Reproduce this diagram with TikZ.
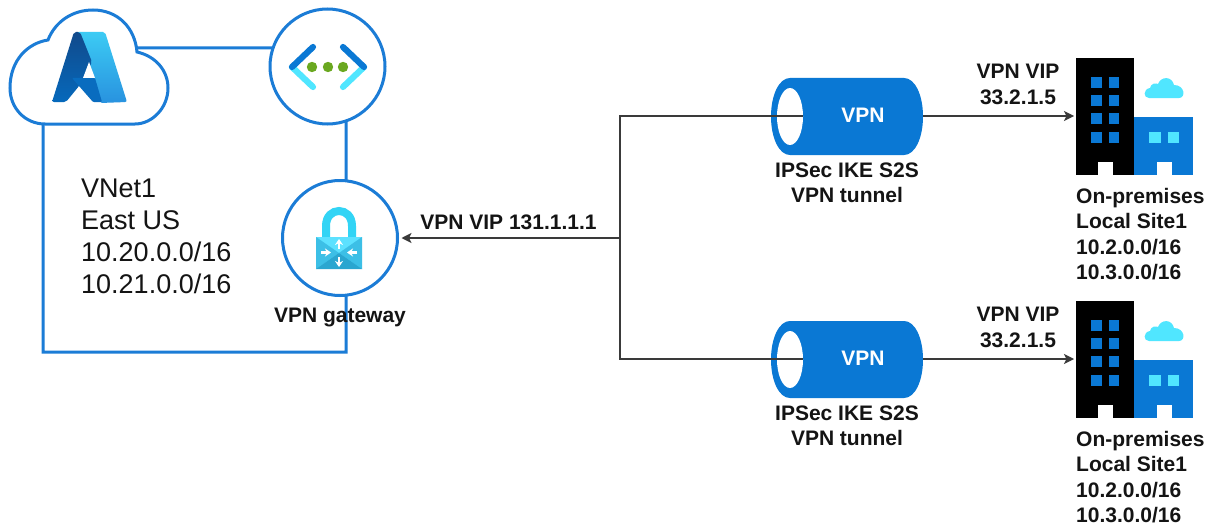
\documentclass[tikz,border=0pt]{standalone}
\usepackage{fontspec}
\setmainfont{Liberation Sans}
\usetikzlibrary{arrows.meta}
\definecolor{azline}{HTML}{1B7CD6}
\definecolor{azblue}{HTML}{0A78D4}
\definecolor{azlight}{HTML}{50E6FF}
\definecolor{conn}{HTML}{3A3A3A}
\definecolor{txt}{HTML}{141414}
\definecolor{azlone}{HTML}{3CCBF4}
\definecolor{azltwo}{HTML}{2892DF}
\definecolor{azdone}{HTML}{114A8B}
\definecolor{azdtwo}{HTML}{0669BC}
\definecolor{azgreen}{HTML}{6AA820}
\definecolor{azcy}{HTML}{32D4F5}
\definecolor{azbone}{HTML}{5CE1FF}
\definecolor{azbtwo}{HTML}{3CBFE6}
\definecolor{azbthree}{HTML}{2AA6D0}
\tikzset{
  frameline/.style={draw=azline,line width=3pt},
  ring/.style={circle,draw=azline,fill=white,line width=3pt,minimum size=115pt,inner sep=0pt,outer sep=0pt},
  wire/.style={draw=conn,line width=1.5pt},
  arrowwire/.style={wire,-{Stealth[length=10pt,width=10pt,inset=2.5pt]}},
  boldlabel/.style={font=\fontsize{21}{25.5}\selectfont\bfseries,text=txt,inner sep=0pt,align=center},
  ghost/.style={inner sep=0pt,outer sep=0pt},
  chev/.style={line width=6.2pt,line cap=round},
  gwarrow/.style={draw=white,line width=2.2pt,-{Stealth[length=6pt,width=8pt]}},
}
\newcommand{\sitegroup}[2]{%
  \begin{scope}[shift={(0,#2)}]
    \node[ghost,minimum width=152pt,minimum height=76pt] (tun#1) at (847,116.5) {};
    \coordinate (hole#1) at (803,116);
    \coordinate (tunout#1) at (923,116);
    \node[ghost,minimum width=117pt,minimum height=117pt] (bld#1) at (1134.5,116.5) {};
    % tunnel
    \fill[azblue] (790,78) -- (904,78) .. controls (915,78) and (923,95) .. (923,116.5)
      .. controls (923,138) and (915,155) .. (904,155) -- (790,155)
      .. controls (779,155) and (771,138) .. (771,116.5)
      .. controls (771,95) and (779,78) .. (790,78) -- cycle;
    \fill[white] (790,116.5) ellipse [x radius=13pt,y radius=28.5pt];
    \node[boldlabel,text=white] (vpn#1) at (863,115) {VPN};
    \node[boldlabel] (ipsec#1) at (847,183) {IPSec IKE S2S\\VPN tunnel};
    \node[boldlabel] (vip#1) at (1018,84.5) {VPN VIP\\33.2.1.5};
    \node[boldlabel,align=left,anchor=north west] (site#1) at (1076,188) {On-premises\\Local Site1\\10.2.0.0/16\\10.3.0.0/16};
    % buildings
    \fill[black] (1076,58) rectangle (1134,175);
    \fill[azblue] (1134,117) rectangle (1193,175);
    \foreach \wy in {77,95,113,132} {
      \fill[azblue] (1091,\wy) rectangle (1102,\wy+11);
      \fill[azblue] (1109,\wy) rectangle (1119,\wy+11);
    }
    \fill[white] (1098,162) rectangle (1113,175);
    \fill[white] (1157,162) rectangle (1172,175);
    \fill[azlight] (1149,132) rectangle (1161,143);
    \fill[azlight] (1168,132) rectangle (1179,143);
    \fill[azlight] (1149,98) .. controls (1143,98) and (1143,89) .. (1150,88)
      .. controls (1151,83) and (1156,83) .. (1158,84)
      .. controls (1161,76) and (1172,76) .. (1174,85)
      .. controls (1185,85) and (1186,98) .. (1179,98) -- cycle;
    % connectors
    \draw[arrowwire,shorten >=2pt] (tunout#1) -- (bld#1.west |- tunout#1);
  \end{scope}
}
\begin{document}
\begin{tikzpicture}[x=1pt,y=-1pt]
\useasboundingbox (0,0) rectangle (1208,527);
\fill[white] (0,0) rectangle (1208,527);
% frame
\coordinate (cloudR) at (137,48);
\coordinate (cloudB) at (43,124);
\coordinate (cornerL) at (43,352);
\coordinate (cornerR) at (346,352);
\node[ring] (vnet) at (327.5,66.5) {};
\node[ring] (gw) at (340,238) {};
\draw[frameline] (cloudR) -- (vnet.161.2);
\draw[frameline] (vnet.-71.2) -- (gw.84);
\draw[frameline,line join=miter] (gw.-84) -- (cornerR) -- (cornerL) -- (cloudB);
% cloud
\fill[white,draw=azline,line width=3pt] (45,124) .. controls (25,124) and (10,108) .. (10,88)
  .. controls (10,60) and (28,43) .. (48,40)
  .. controls (55,22) and (72,10) .. (93,10)
  .. controls (118,10) and (135,28) .. (137,52)
  .. controls (155,56) and (168,70) .. (168,88)
  .. controls (168,108) and (152,124) .. (135,124) -- cycle;
% Azure logo
\shade[top color=azlone,bottom color=azltwo,rounded corners=2pt] (77,32) -- (105,32) -- (127,102) -- (100,103) -- cycle;
\shade[top color=azdone,bottom color=azdtwo,rounded corners=2pt] (74,32) -- (80,32) -- (92,62) -- (79,86) -- (66,102) -- (52,102) -- cycle;
\fill[azblue!90!black,rounded corners=1pt] (72,78) -- (95,78) -- (102,102) -- (93,102) -- cycle;
\fill[white] (89,62) -- (83,78) -- (95,78) -- cycle;
% network icon
\draw[chev,draw=azlight] (292,67) -- (313,87);
\draw[chev,draw=azblue] (313,47) -- (292,67);
\draw[chev,draw=azlight] (364,67) -- (343,87);
\draw[chev,draw=azblue] (343,47) -- (364,67);
\foreach \dx in {312,328,343} \fill[azgreen] (\dx,67) circle [radius=5.2pt];
% lock
\draw[draw=azcy,line width=8pt] (326,238) -- (326,226) .. controls (326,206) and (352,206) .. (352,226) -- (352,238);
\fill[azbone] (316,237) rectangle (362,269);
\fill[azbtwo] (316,237) -- (339,253) -- (316,269) -- cycle;
\fill[azbtwo] (362,237) -- (339,253) -- (362,269) -- cycle;
\fill[azbthree] (316,269) -- (339,253) -- (362,269) -- cycle;
\draw[gwarrow] (339,249) -- (339,239);
\draw[gwarrow] (339,257) -- (339,267);
\draw[gwarrow] (321,252.5) -- (331,252.5);
\draw[gwarrow] (357,252.5) -- (347,252.5);
% labels
\node[inner sep=0pt,anchor=west,align=left,font=\fontsize{27}{32}\selectfont,text=txt] (vnetlabel) at (81,236) {VNet1\\East US\\10.20.0.0/16\\10.21.0.0/16};
\node[boldlabel] (gwlabel) at (340,317) {VPN gateway};
\node[boldlabel] (viplabel) at (508.5,222) {VPN VIP 131.1.1.1};
% sites
\sitegroup{A}{0}
\sitegroup{B}{243}
% connectors
\coordinate (junction) at (620,238);
\draw[arrowwire,shorten >=4pt] (junction) -- (gw.east);
\draw[wire] (holeA) -| (junction) |- (holeB);
\end{tikzpicture}
\end{document}
